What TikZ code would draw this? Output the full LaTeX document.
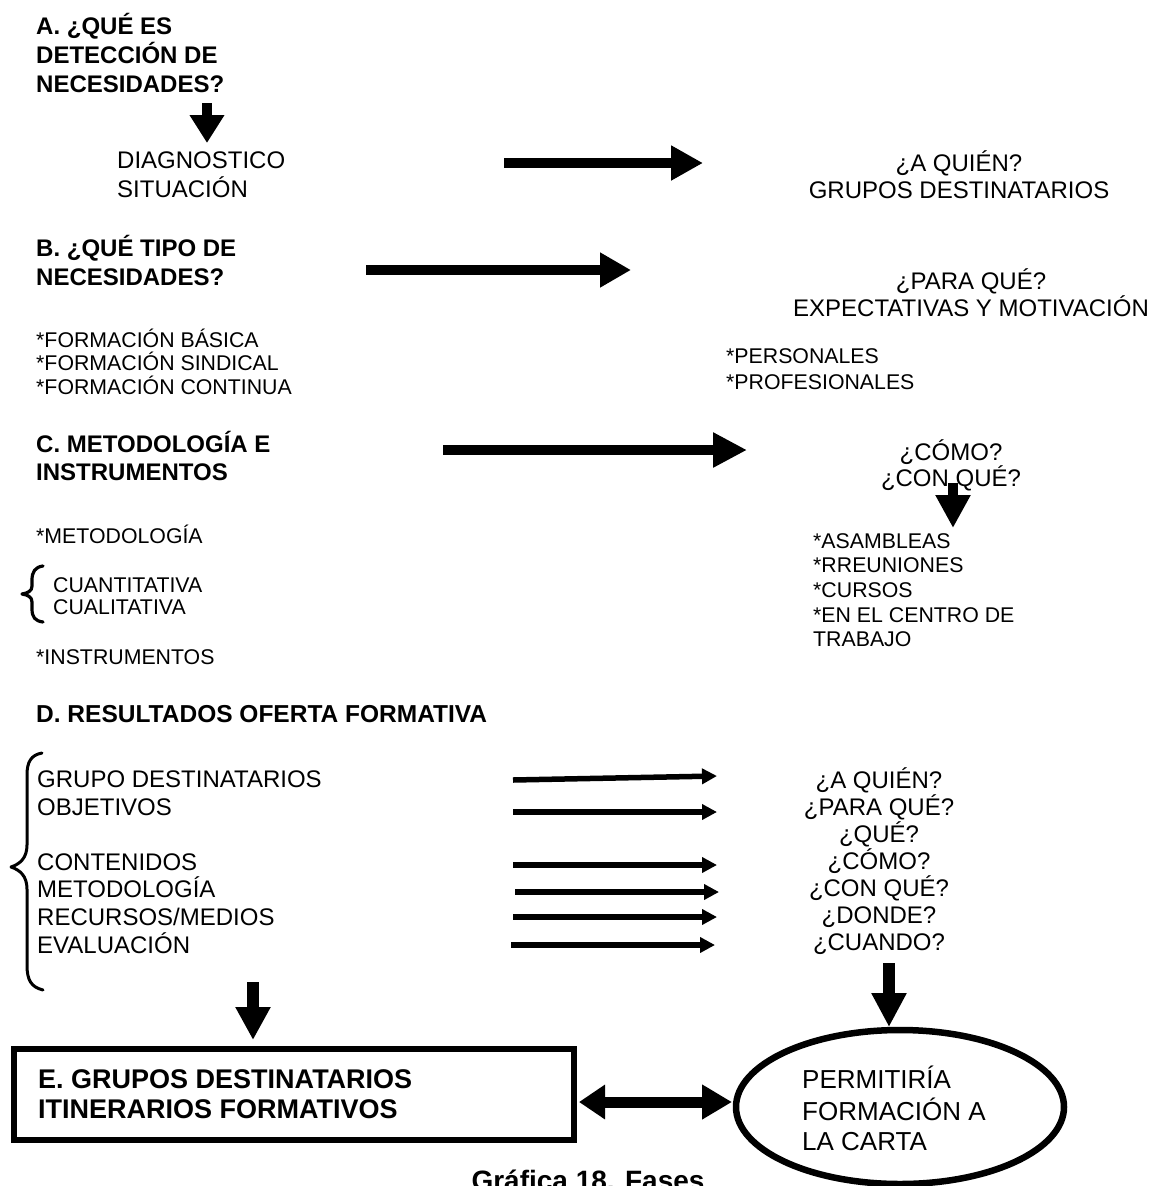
\documentclass[tikz,border=0pt]{standalone}
\usepackage{fontspec}
\setmainfont{Liberation Sans}
\usetikzlibrary{arrows.meta,shapes.geometric}
\begin{document}
\begin{tikzpicture}[x=1pt,y=-1pt,
  body/.style={anchor=base west, inner sep=0pt, font=\fontsize{24}{28}\selectfont},
  bodyc/.style={anchor=base, inner sep=0pt, font=\fontsize{24}{28}\selectfont},
  smalltxt/.style={anchor=base west, inner sep=0pt, font=\fontsize{21.3}{24}\selectfont},
  headtxt/.style={anchor=base west, inner sep=0pt, font=\fontsize{24}{28}\selectfont\bfseries},
  boxtxt/.style={anchor=base west, inner sep=0pt, font=\fontsize{27}{30}\selectfont\bfseries},
  ovaltxt/.style={anchor=base west, inner sep=0pt, font=\fontsize{26}{30}\selectfont},
  bigarrow/.style={line width=10pt, -{Triangle[length=#1,width=33pt]}},
  bigarrow/.default=32pt,
  fatarrow/.style={line width=12pt, -{Triangle[length=#1,width=33pt]}},
  fatarrow/.default=33pt,
  thinarrow/.style={line width=5.5pt, -{Triangle[length=15pt,width=15pt]}},
  bracepath/.style={line width=3.2pt, line cap=round, line join=round}
]
\useasboundingbox (0,0) rectangle (1155,1186);
\fill[white] (0,0) rectangle (1155,1186);
\clip (0,0) rectangle (1155,1186);

% ---- A ----
\node[headtxt] (a1) at (36,34) {A. ¿QUÉ ES};
\node[headtxt] (a2) at (36,63) {DETECCIÓN DE};
\node[headtxt] (a3) at (36,92) {NECESIDADES?};
\coordinate (aS) at (207,103);
\coordinate (aE) at (207,143);
\draw[bigarrow=28pt] (aS) -- (aE);
\node[body] (diag1) at (117,168) {DIAGNOSTICO};
\node[body] (diag2) at (117,197) {SITUACIÓN};

\coordinate (r1S) at (504,163);
\coordinate (r1E) at (703,163);
\draw[bigarrow] (r1S) -- (r1E);
\node[bodyc] (quien1) at (959,171) {¿A QUIÉN?};
\node[bodyc] (quien2) at (959,198) {GRUPOS DESTINATARIOS};

% ---- B ----
\node[headtxt] (b1) at (36,256) {B. ¿QUÉ TIPO DE};
\node[headtxt] (b2) at (36,285) {NECESIDADES?};
\coordinate (r2S) at (366,270);
\coordinate (r2E) at (631,270);
\draw[bigarrow=31pt] (r2S) -- (r2E);
\node[bodyc] (para1) at (971,289) {¿PARA QUÉ?};
\node[bodyc] (para2) at (971,316) {EXPECTATIVAS Y MOTIVACIÓN};
\node[smalltxt] (f1) at (36,347) {*FORMACIÓN BÁSICA};
\node[smalltxt] (f2) at (36,370) {*FORMACIÓN SINDICAL};
\node[smalltxt] (f3) at (36,394) {*FORMACIÓN CONTINUA};
\node[smalltxt] (p1) at (726,363) {*PERSONALES};
\node[smalltxt] (p2) at (726,389) {*PROFESIONALES};

% ---- C ----
\node[headtxt] (c1) at (36,452) {C. METODOLOGÍA E};
\node[headtxt] (c2) at (36,480) {INSTRUMENTOS};
\coordinate (r3S) at (443,450);
\coordinate (r3E) at (747,450);
\draw[bigarrow=34pt] (r3S) -- (r3E);
\node[bodyc] (como1) at (951,460) {¿CÓMO?};
\node[bodyc] (como2) at (951,486) {¿CON QUÉ?};
\coordinate (cS) at (953,483);
\coordinate (cE) at (953,528);
\draw[bigarrow=33pt] (cS) -- (cE);
\node[smalltxt] (m1) at (813,548) {*ASAMBLEAS};
\node[smalltxt] (m2) at (813,572) {*RREUNIONES};
\node[smalltxt] (m3) at (813,597) {*CURSOS};
\node[smalltxt] (m4) at (813,622) {*EN EL CENTRO DE};
\node[smalltxt] (m5) at (813,646) {TRABAJO};
\node[smalltxt] (met) at (36,543) {*METODOLOGÍA};
\node[smalltxt] (cuan) at (53,592) {CUANTITATIVA};
\node[smalltxt] (cual) at (53,614) {CUALITATIVA};
\node[smalltxt] (inst) at (36,664) {*INSTRUMENTOS};
% small brace
\draw[bracepath] (43,566) .. controls (35,567) and (32,572) .. (32,580) -- (32,586)
  .. controls (32,591) and (28,593) .. (22,594)
  .. controls (28,595) and (32,597) .. (32,602) -- (32,609)
  .. controls (32,617) and (35,621) .. (43,622);

% ---- D ----
\node[headtxt, font=\fontsize{24.5}{28}\selectfont\bfseries] (d0) at (36,722) {D. RESULTADOS OFERTA FORMATIVA};
\node[body] (d1) at (37,787) {GRUPO DESTINATARIOS};
\node[body] (d2) at (37,815) {OBJETIVOS};
\node[body] (d3) at (37,870) {CONTENIDOS};
\node[body] (d4) at (37,897) {METODOLOGÍA};
\node[body] (d5) at (37,925) {RECURSOS/MEDIOS};
\node[body] (d6) at (37,953) {EVALUACIÓN};
% large brace
\draw[bracepath, line width=3pt] (42,753) .. controls (31,755) and (27,762) .. (27,775) -- (27,845)
  .. controls (27,858) and (20,864) .. (11,867)
  .. controls (20,870) and (27,876) .. (27,889) -- (27,965)
  .. controls (27,980) and (31,987) .. (43,990);

\coordinate (t1S) at (513,780); \coordinate (t1E) at (717,776);
\coordinate (t2S) at (513,812); \coordinate (t2E) at (717,812);
\coordinate (t3S) at (513,865); \coordinate (t3E) at (717,865);
\coordinate (t4S) at (515,892); \coordinate (t4E) at (719,892);
\coordinate (t5S) at (513,917); \coordinate (t5E) at (717,917);
\coordinate (t6S) at (511,945); \coordinate (t6E) at (715,945);
\foreach \i in {1,...,6} \draw[thinarrow] (t\i S) -- (t\i E);

\node[bodyc] (q1) at (879,788) {¿A QUIÉN?};
\node[bodyc] (q2) at (879,815) {¿PARA QUÉ?};
\node[bodyc] (q3) at (879,842) {¿QUÉ?};
\node[bodyc] (q4) at (879,869) {¿CÓMO?};
\node[bodyc] (q5) at (879,896) {¿CON QUÉ?};
\node[bodyc] (q6) at (879,923) {¿DONDE?};
\node[bodyc] (q7) at (879,950) {¿CUANDO?};

% ---- E ----
\node[draw, line width=6pt, outer sep=0pt, inner sep=0pt, anchor=north west,
      minimum width=560pt, minimum height=91pt] (ebox) at (14,1049) {};
\node[boxtxt] (e1) at (38,1088) {E. GRUPOS DESTINATARIOS};
\node[boxtxt] (e2) at (38,1118) {ITINERARIOS FORMATIVOS};
\coordinate (eS) at (253,982);
\coordinate (eE) at (253,1040);
\draw[fatarrow] (eS) -- (eE);

\node[draw, ellipse, line width=6.5pt, outer sep=0pt, inner sep=0pt,
      minimum width=328pt, minimum height=154pt] (carta) at (900,1107) {};
\node[ovaltxt] (o1) at (802,1088) {PERMITIRÍA};
\node[ovaltxt] (o2) at (802,1120) {FORMACIÓN A};
\node[ovaltxt] (o3) at (802,1150) {LA CARTA};
\coordinate (qS) at (889,963);
\coordinate (qE) at (889,1027);
\draw[fatarrow=34pt] (qS) -- (qE);

\coordinate (dL) at (579,1102);
\coordinate (dR) at (732,1102);
\draw[line width=11pt, {Triangle[length=26pt,width=33pt]}-{Triangle[length=30pt,width=33pt]}] (dL) -- (dR);

\node[anchor=base, inner sep=0pt, font=\fontsize{28}{30}\selectfont\bfseries] (caption) at (588,1190) {Gráfica 18. Fases};
\end{tikzpicture}
\end{document}
